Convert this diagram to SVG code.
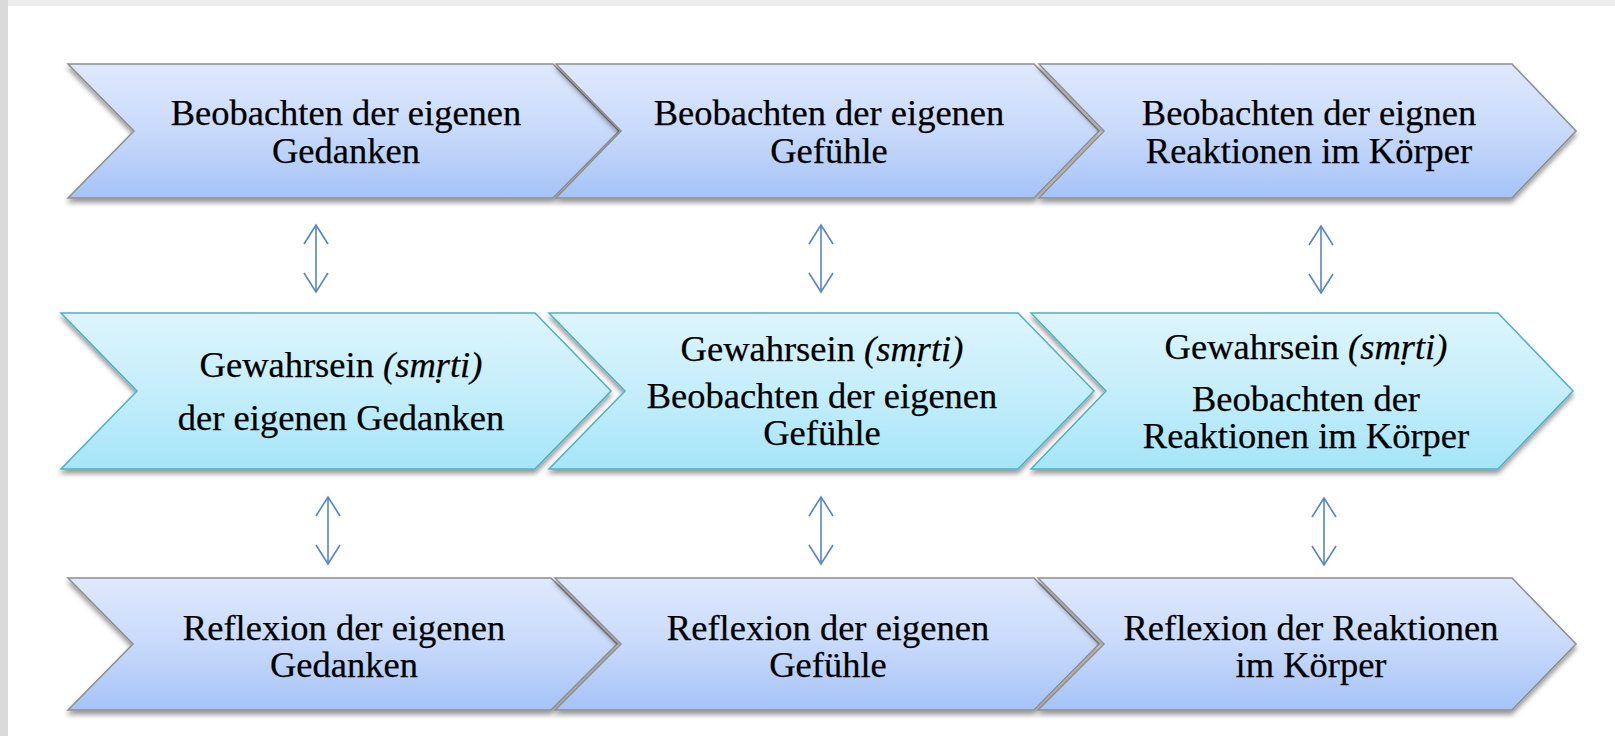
<svg xmlns="http://www.w3.org/2000/svg" width="1615" height="736" viewBox="0 0 1615 736">
<style>
.t{font-family:"Liberation Serif","DejaVu Serif",serif;font-size:36.5px;fill:#000;stroke:#000;stroke-width:0.25;text-anchor:middle}
.i{font-style:italic}
.blue{fill:url(#gBlue);stroke:#8e8e8e;stroke-width:1.5;filter:url(#sh)}
.cyan{fill:url(#gCyan);stroke:#4fb0c9;stroke-width:1.5;filter:url(#sh)}
.conn{stroke:#5585c6;stroke-width:1.6;fill:none;marker-start:url(#ah);marker-end:url(#ah)}
</style>
<defs>
<linearGradient id="gBlue" x1="0" y1="0" x2="0" y2="1">
<stop offset="0" stop-color="#dfe9fd"/>
<stop offset="0.5" stop-color="#c8dafb"/>
<stop offset="1" stop-color="#a5c3f6"/>
</linearGradient>
<linearGradient id="gCyan" x1="0" y1="0" x2="0" y2="1">
<stop offset="0" stop-color="#ddf5fd"/>
<stop offset="0.5" stop-color="#c5eefb"/>
<stop offset="1" stop-color="#a5e5f8"/>
</linearGradient>
<filter id="sh" x="-5%" y="-10%" width="110%" height="125%">
<feDropShadow dx="0" dy="4" stdDeviation="2.5" flood-color="#000" flood-opacity="0.4"/>
</filter>
<marker id="ah" markerUnits="userSpaceOnUse" markerWidth="30" markerHeight="30" viewBox="-22 -15 26 30" refX="0" refY="0" orient="auto-start-reverse">
<path d="M-19,-12 L0,0 L-19,12" fill="none" stroke="#5585c6" stroke-width="1.6"/>
</marker>
</defs>
<rect x="0" y="0" width="1615" height="736" fill="#ffffff"/>
<rect x="0" y="0" width="1615" height="6" fill="#ececec"/>
<rect x="0" y="0" width="8" height="736" fill="#dadada"/>

<g id="top1"><path class="blue" d="M68,64 L553,64 L619,131 L553,198 L68,198 L134,131 Z"/>
<text class="t" x="346" y="125">Beobachten der eigenen</text><text class="t" x="346" y="163">Gedanken</text></g>
<g id="top2"><path class="blue" d="M556,64 L1034,64 L1099,131 L1034,198 L556,198 L621,131 Z"/>
<text class="t" x="829" y="125">Beobachten der eigenen</text><text class="t" x="829" y="163">Gefühle</text></g>
<g id="top3"><path class="blue" d="M1039,64 L1512,64 L1576,131 L1512,198 L1039,198 L1104,131 Z"/>
<text class="t" x="1309" y="125">Beobachten der eignen</text><text class="t" x="1309" y="163">Reaktionen im Körper</text></g>

<g id="mid1"><path class="cyan" d="M61,313 L535,313 L611,391 L535,469 L61,469 L137,391 Z"/>
<text class="t" x="341" y="377">Gewahrsein <tspan class="i">(smṛti)</tspan></text><text class="t" x="341" y="430">der eigenen Gedanken</text></g>
<g id="mid2"><path class="cyan" d="M549,313 L1018,313 L1094,391 L1018,469 L549,469 L625,391 Z"/>
<text class="t" x="822" y="361">Gewahrsein <tspan class="i">(smṛti)</tspan></text><text class="t" x="822" y="408">Beobachten der eigenen</text><text class="t" x="822" y="445">Gefühle</text></g>
<g id="mid3"><path class="cyan" d="M1031,313 L1498,313 L1573,391 L1498,469 L1031,469 L1106,391 Z"/>
<text class="t" x="1306" y="359">Gewahrsein <tspan class="i">(smṛti)</tspan></text><text class="t" x="1306" y="411">Beobachten der</text><text class="t" x="1306" y="448">Reaktionen im Körper</text></g>

<g id="bot1"><path class="blue" d="M68,578 L551,578 L617,644 L551,710 L68,710 L133,644 Z"/>
<text class="t" x="344" y="640">Reflexion der eigenen</text><text class="t" x="344" y="677">Gedanken</text></g>
<g id="bot2"><path class="blue" d="M555,578 L1034,578 L1099,644 L1034,710 L555,710 L621,644 Z"/>
<text class="t" x="828" y="640">Reflexion der eigenen</text><text class="t" x="828" y="677">Gefühle</text></g>
<g id="bot3"><path class="blue" d="M1038,578 L1512,578 L1576,644 L1512,710 L1038,710 L1104,644 Z"/>
<text class="t" x="1311" y="640">Reflexion der Reaktionen</text><text class="t" x="1311" y="677">im Körper</text></g>

<g id="connectors">
<path class="conn" d="M316,225 L316,292"/>
<path class="conn" d="M821,225 L821,292"/>
<path class="conn" d="M1321,226 L1321,293"/>
<path class="conn" d="M328,497 L328,564"/>
<path class="conn" d="M821,497 L821,564"/>
<path class="conn" d="M1324,498 L1324,565"/>
</g>
</svg>
